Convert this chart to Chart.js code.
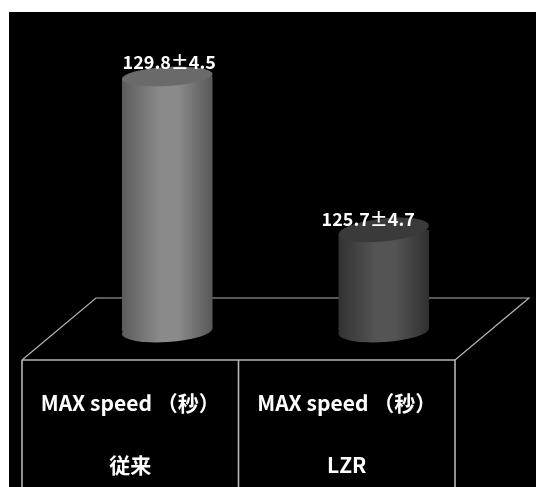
<!DOCTYPE html>
<html>
<head>
<meta charset="utf-8">
<style>
  html, body { margin: 0; padding: 0; background: #fff; }
  canvas { display: block; }
</style>
<script src="https://cdn.jsdelivr.net/npm/chart.js@4/dist/chart.umd.min.js"></script>
</head>
<body>
<div style="width:536px;height:487px"><canvas id="chart"></canvas></div>
<script>
const categories = [['MAX speed （秒）', '従来'], ['MAX speed （秒）', 'LZR']];
const means = [129.8, 125.7];
const errors = [4.5, 4.7];
const axisMin = 123;
const axisMax = 131;

// Cylinder shading per bar: side gradient edges and centre, cap colour
const sideEdge = [['#5c5c5c', '#585858'], ['#323232', '#303030']];
const sideMid = ['#8a8a8a', '#545454'];
const capColor = ['#6a6a6a', '#3a3a3a'];
const capRy = [9.5, 11.5];
const capTilt = [-3.2, -6];
const footRy = 11;
const footTilt = -3.8;
const labelDx = [2, -15.5];
const labelDy = [-14.5, -10.5];
const barShare = 0.42;

// Offset of the bars on the floor plate, half of the plate's depth
const floorDepth = { x: 74, y: 62 };
const barShift = { x: 37, y: -29 };
const LINE = '#b4b4b4';
const FONT = '"Noto Sans CJK JP"';

function sideGradient(chart, i) {
  const x = chart.scales.x;
  const half = (x.right - x.left) / categories.length * barShare / 2;
  const cx = x.getPixelForTick(i);
  if (!Number.isFinite(cx) || !Number.isFinite(half)) return sideMid[i]; // scale not laid out yet
  const g = chart.ctx.createLinearGradient(cx - half, 0, cx + half, 0);
  g.addColorStop(0, sideEdge[i][0]);
  g.addColorStop(0.42, sideMid[i]);
  g.addColorStop(0.62, sideMid[i]);
  g.addColorStop(1, sideEdge[i][1]);
  return g;
}

function ellipse(ctx, x, y, rx, ry, deg) {
  ctx.beginPath();
  ctx.ellipse(x, y, rx, ry, deg * Math.PI / 180, 0, Math.PI * 2);
}

const stage = {
  id: 'stage',
  beforeDraw(chart) {
    const { ctx, chartArea: a, width, height } = chart;
    ctx.save();
    ctx.fillStyle = '#fff';
    ctx.fillRect(0, 0, width, height);
    ctx.fillStyle = '#000';
    ctx.fillRect(9, 12, width - 9, height - 12);

    // Floor plate behind the bars
    ctx.strokeStyle = LINE;
    ctx.lineWidth = 1.2;
    ctx.beginPath();
    ctx.moveTo(a.left, a.bottom);
    ctx.lineTo(a.left + floorDepth.x, a.bottom - floorDepth.y);
    ctx.lineTo(a.right + floorDepth.x, a.bottom - floorDepth.y);
    ctx.lineTo(a.right, a.bottom);
    ctx.stroke();

    // Table rules under the plate
    ctx.lineWidth = 1.6;
    const mid = (chart.scales.x.getPixelForTick(0) + chart.scales.x.getPixelForTick(1)) / 2;
    ctx.beginPath();
    ctx.moveTo(a.left, a.bottom);
    ctx.lineTo(a.right, a.bottom);
    [a.left, mid, a.right].forEach(x => {
      ctx.moveTo(x, a.bottom);
      ctx.lineTo(x, height);
    });
    ctx.stroke();
    ctx.restore();
  },
  beforeDatasetDraw(chart) {
    const { ctx } = chart;
    const bars = chart.getDatasetMeta(0).data;
    ctx.save();
    ctx.translate(barShift.x, barShift.y);
    bars.forEach((el, i) => {
      ctx.fillStyle = sideGradient(chart, i);
      ellipse(ctx, el.x, el.base, el.width / 2, footRy, footTilt);
      ctx.fill();
    });
    // Trim the square bar corners along the sloping cap and foot
    ctx.beginPath();
    bars.forEach((el, i) => {
      const half = el.width / 2;
      const t = Math.tan(capTilt[i] * Math.PI / 180) * half;
      const b = Math.tan(footTilt * Math.PI / 180) * half;
      ctx.moveTo(el.x - half, el.y - t);
      ctx.lineTo(el.x + half, el.y + t);
      ctx.lineTo(el.x + half, el.base + b);
      ctx.lineTo(el.x - half, el.base - b);
      ctx.closePath();
    });
    ctx.clip();
  },
  afterDatasetDraw(chart) {
    const { ctx } = chart;
    ctx.restore();
    ctx.save();
    ctx.translate(barShift.x, barShift.y);
    chart.getDatasetMeta(0).data.forEach((el, i) => {
      ctx.fillStyle = capColor[i];
      ellipse(ctx, el.x, el.y, el.width / 2, capRy[i], capTilt[i]);
      ctx.fill();
      ctx.fillStyle = '#fff';
      ctx.font = '700 18px ' + FONT;
      ctx.textAlign = 'center';
      ctx.textBaseline = 'middle';
      ctx.fillText(means[i].toFixed(1) + '±' + errors[i].toFixed(1), el.x + labelDx[i], el.y + labelDy[i]);
    });
    ctx.restore();
  }
};

new Chart(document.getElementById('chart'), {
  type: 'bar',
  data: {
    labels: categories,
    datasets: [{
      data: means,
      base: axisMin,
      clip: false,
      backgroundColor: c => sideGradient(c.chart, c.dataIndex),
      borderWidth: 0,
      barPercentage: barShare,
      categoryPercentage: 1
    }]
  },
  options: {
    responsive: true,
    maintainAspectRatio: false,
    animation: false,
    layout: { padding: { left: 22, right: 81, top: 60.5, bottom: 0 } },
    plugins: { legend: { display: false }, tooltip: { enabled: false } },
    scales: {
      x: {
        grid: { display: false },
        border: { display: false },
        afterFit: s => { s.height = 127; },
        ticks: {
          color: '#fff',
          maxRotation: 0,
          autoSkip: false,
          padding: 4,
          font: { family: FONT, size: 21, weight: '700', lineHeight: 62 / 21 }
        }
      },
      y: { display: false, min: axisMin, max: axisMax }
    }
  },
  plugins: [stage]
});
</script>
</body>
</html>
